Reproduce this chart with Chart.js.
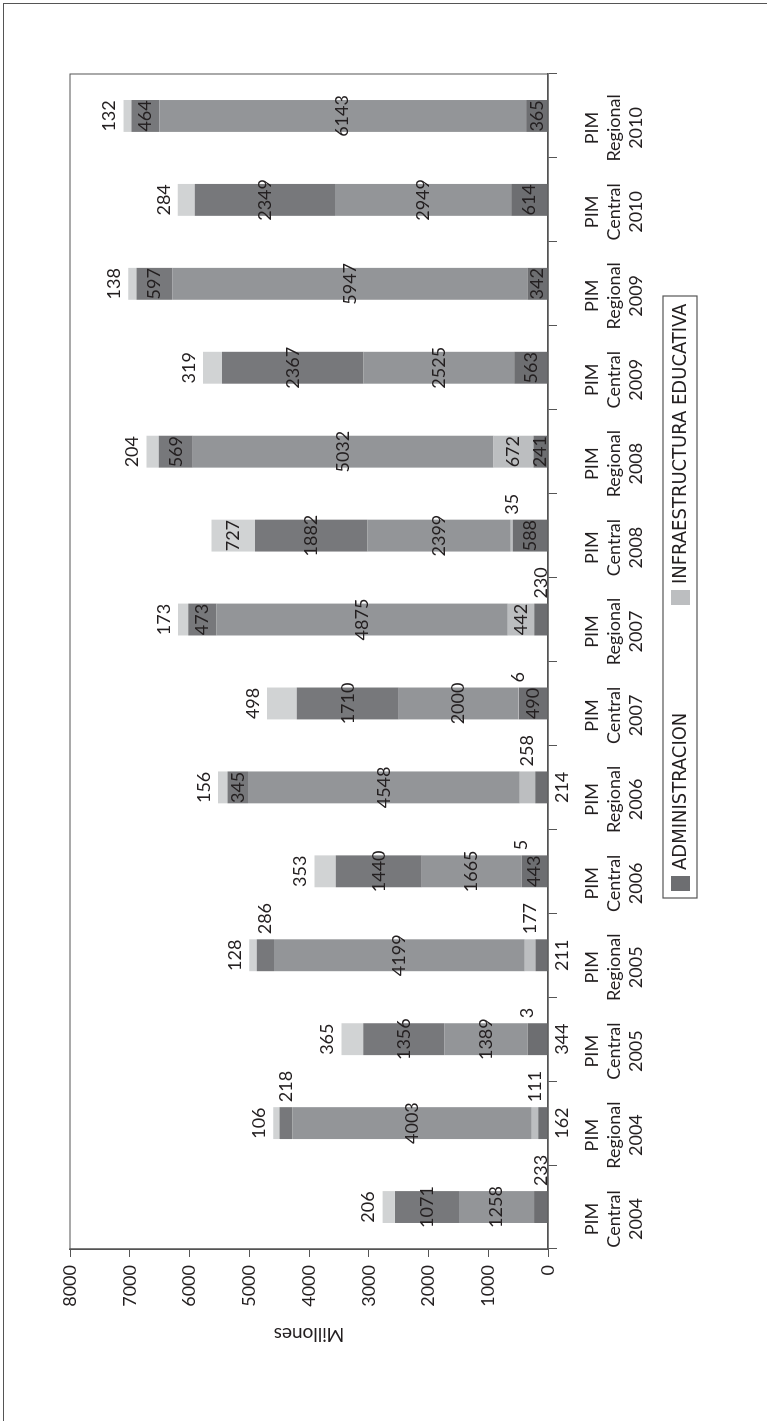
<!DOCTYPE html>
<html>
<head>
<meta charset="utf-8">
<script src="https://cdn.jsdelivr.net/npm/chart.js@4.4.1/dist/chart.umd.min.js"></script>
<style>
  html, body { margin: 0; padding: 0; background: #fff; overflow: hidden; }
  #frame { position: absolute; left: 3px; top: 3px; width: 800px; height: 1450px;
           border-left: 1.5px solid #555; border-top: 1.5px solid #555; }
  /* chart is drawn landscape, then turned a quarter turn to the left */
  #wrap { position: absolute; left: 0; top: 0; width: 1421px; height: 767px;
          transform-origin: 0 0; transform: translateY(1421px) rotate(-90deg); }
</style>
</head>
<body>
<div id="frame"></div>
<div id="wrap"><canvas id="chart" width="1421" height="767"></canvas></div>
<script>
// categories along the bar axis
const categories = [
  ['PIM', 'Central', '2004'], ['PIM', 'Regional', '2004'],
  ['PIM', 'Central', '2005'], ['PIM', 'Regional', '2005'],
  ['PIM', 'Central', '2006'], ['PIM', 'Regional', '2006'],
  ['PIM', 'Central', '2007'], ['PIM', 'Regional', '2007'],
  ['PIM', 'Central', '2008'], ['PIM', 'Regional', '2008'],
  ['PIM', 'Central', '2009'], ['PIM', 'Regional', '2009'],
  ['PIM', 'Central', '2010'], ['PIM', 'Regional', '2010']
];

// stacked segments, bottom to top (millones)
const administracion = [233, 162, 344, 211, 443, 214, 490, 230, 588, 241, 563, 342, 614, 365];
const infraestructura = [0, 111, 3, 177, 5, 258, 6, 442, 35, 672, 0, 0, 0, 0];
const serie3 = [1258, 4003, 1389, 4199, 1665, 4548, 2000, 4875, 2399, 5032, 2525, 5947, 2949, 6143];
const serie4 = [1071, 218, 1356, 286, 1440, 345, 1710, 473, 1882, 569, 2367, 597, 2349, 464];
const serie5 = [206, 106, 365, 128, 353, 156, 498, 173, 727, 204, 319, 138, 284, 132];

const valueTicks = [0, 1000, 2000, 3000, 4000, 5000, 6000, 7000, 8000];

// where each value label sits: c = in segment, o = beside bar, b = under axis, t = over bar
const posAdministracion = ['o', 'b', 'b', 'b', 'c', 'b', 'c', 'o', 'c', 'c', 'c', 'c', 'c', 'c'];
const posInfraestructura = ['o', 'o', 'o', 'o', 'o', 'o', 'o', 'c', 'o', 'c', 'o', 'o', 'o', 'o'];
const posSerie3 = Array(14).fill('c');
const posSerie4 = ['c', 'o', 'c', 'o', 'c', 'c', 'c', 'c', 'c', 'c', 'c', 'c', 'c', 'c'];
const posSerie5 = ['t', 't', 't', 't', 't', 't', 't', 't', 'c', 't', 't', 't', 't', 't'];
const placements = [posAdministracion, posInfraestructura, posSerie3, posSerie4, posSerie5];

const FONT = 'Lato, "Open Sans", sans-serif';
const INK = '#231f20';

const segmentLabels = {
  id: 'segmentLabels',
  afterDatasetsDraw(chart) {
    const ctx = chart.ctx;
    const zero = chart.scales.y.getPixelForValue(0);
    ctx.save();
    ctx.font = '18px ' + FONT;
    ctx.fillStyle = INK;
    ctx.textBaseline = 'middle';
    chart.data.datasets.forEach((ds, di) => {
      chart.getDatasetMeta(di).data.forEach((bar, i) => {
        const v = ds.data[i];
        if (!v) return;
        const p = bar.getProps(['x', 'y', 'base', 'width'], true);
        const place = placements[di][i];
        let tx = p.x, ty = (p.y + p.base) / 2;
        ctx.textAlign = 'center';
        if (place === 'o') { tx = p.x + p.width / 2 + 5; ctx.textAlign = 'left'; }
        else if (place === 'b') { ty = zero + 14; }
        else if (place === 't') { ty = p.y - 14; }
        ctx.fillText(String(v), tx, ty);
      });
    });
    ctx.restore();
  }
};

const plotFrame = {
  id: 'plotFrame',
  beforeDatasetsDraw(chart) {
    const a = chart.chartArea, ctx = chart.ctx;
    ctx.save();
    ctx.strokeStyle = '#555';
    ctx.lineWidth = 1;
    ctx.strokeRect(a.left, a.top, a.right - a.left, a.bottom - a.top);
    ctx.restore();
  }
};

// legend with only the first two series, in a framed box
const boxLegend = {
  id: 'boxLegend',
  afterDraw(chart) {
    const ctx = chart.ctx;
    const box = { left: 523, top: 663, right: 1125, bottom: 697 };
    const items = [{ ds: 0, x: 530 }, { ds: 1, x: 816 }];
    ctx.save();
    ctx.strokeStyle = '#555';
    ctx.lineWidth = 1.2;
    ctx.strokeRect(box.left, box.top, box.right - box.left, box.bottom - box.top);
    ctx.font = '20px "Liberation Sans Narrow", "DejaVu Sans Condensed", sans-serif';
    ctx.textBaseline = 'middle';
    ctx.textAlign = 'left';
    const mid = (box.top + box.bottom) / 2;
    items.forEach(it => {
      const ds = chart.data.datasets[it.ds];
      ctx.fillStyle = ds.backgroundColor;
      ctx.fillRect(it.x, mid - 9, 15, 19);
      ctx.fillStyle = INK;
      ctx.fillText(ds.label, it.x + 21, mid + 1);
    });
    ctx.restore();
  }
};

new Chart(document.getElementById('chart'), {
  type: 'bar',
  data: {
    labels: categories,
    datasets: [
      { label: 'ADMINISTRACION', data: administracion, backgroundColor: '#6d6e71' },
      { label: 'INFRAESTRUCTURA EDUCATIVA', data: infraestructura, backgroundColor: '#bcbec0' },
      { label: 'Serie 3', data: serie3, backgroundColor: '#939598' },
      { label: 'Serie 4', data: serie4, backgroundColor: '#77787b' },
      { label: 'Serie 5', data: serie5, backgroundColor: '#d1d3d4' }
    ]
  },
  options: {
    responsive: false,
    animation: false,
    devicePixelRatio: 1,
    layout: { padding: { left: 0, right: 74, top: 70, bottom: 120 } },
    datasets: { bar: { categoryPercentage: 1, barPercentage: 0.38, borderWidth: 0 } },
    plugins: { legend: { display: false }, tooltip: { enabled: false } },
    scales: {
      x: {
        stacked: true,
        afterFit: s => { s.height = 99; },
        grid: { drawOnChartArea: false, tickLength: 9, color: '#555', offset: true },
        border: { color: '#555', width: 1.5 },
        ticks: {
          autoSkip: false, maxRotation: 0, padding: 24, labelOffset: -12,
          color: INK, font: { family: FONT, size: 18, lineHeight: '22px' }
        }
      },
      y: {
        stacked: true,
        min: 0, max: 8000,
        afterFit: s => { s.width = 172; },
        afterBuildTicks: s => { s.ticks = valueTicks.map(v => ({ value: v })); },
        grid: { drawOnChartArea: false, tickLength: 8, color: '#555' },
        border: { color: '#555', width: 1.5 },
        ticks: {
          padding: 8, color: INK, font: { family: FONT, size: 18 },
          callback: v => String(v)
        },
        title: {
          display: true, text: 'Millones', color: INK,
          font: { family: FONT, size: 19 }, padding: { top: 75, bottom: 0 }
        }
      }
    }
  },
  plugins: [plotFrame, segmentLabels, boxLegend]
});
</script>
</body>
</html>
